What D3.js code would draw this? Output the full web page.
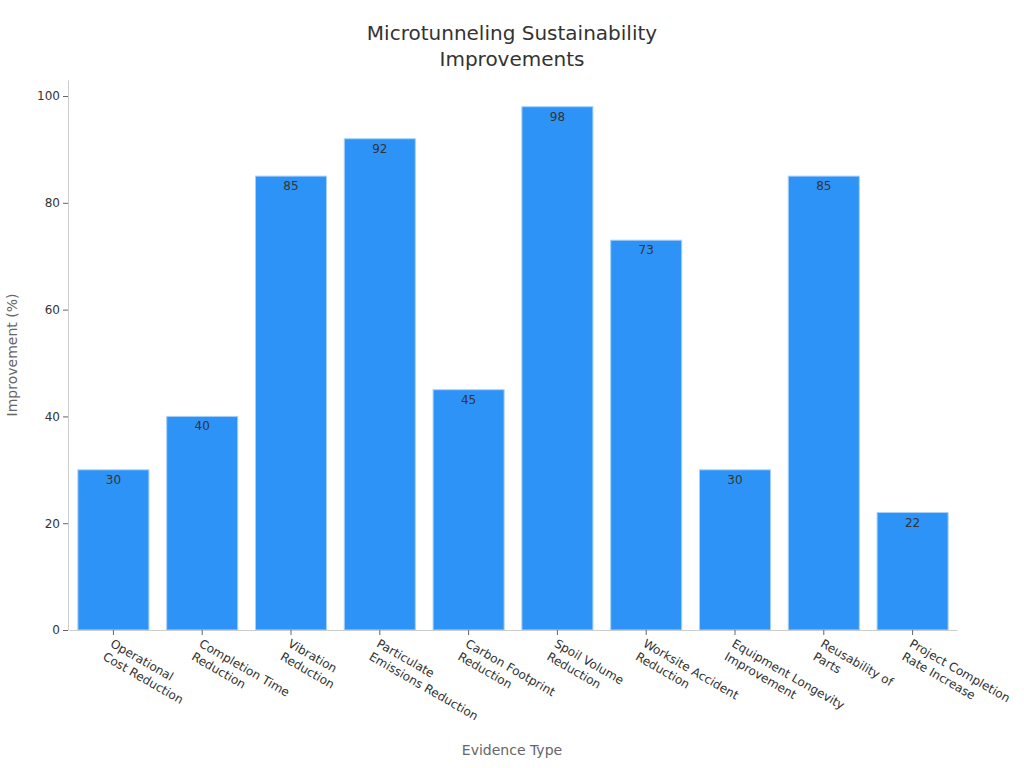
<!DOCTYPE html>
<html><head><meta charset="utf-8">
<script src="https://cdn.jsdelivr.net/npm/d3@7"></script>
<style>body{margin:0;background:#fff;font-family:"DejaVu Sans",sans-serif}</style>
</head><body><svg id="c" width="1024" height="768"></svg>
<script>
const categories = [
  ["Operational","Cost Reduction"],
  ["Completion Time","Reduction"],
  ["Vibration","Reduction"],
  ["Particulate","Emissions Reduction"],
  ["Carbon Footprint","Reduction"],
  ["Spoil Volume","Reduction"],
  ["Worksite Accident","Reduction"],
  ["Equipment Longevity","Improvement"],
  ["Reusability of","Parts"],
  ["Project Completion","Rate Increase"]
];
const values = [30, 40, 85, 92, 45, 98, 73, 30, 85, 22];
const yTicks = [0, 20, 40, 60, 80, 100];
const titleLines = ["Microtunneling Sustainability", "Improvements"];

const svg = d3.select("#c");
const m = {l:68, r:957, t:80, b:630};
const keys = categories.map(d => d.join(" "));
const x = d3.scaleBand().domain(keys).range([m.l + 1, m.r]).paddingInner(0.2).paddingOuter(0.1);
const y = d3.scaleLinear().domain([0, 103]).range([m.b, m.t]);

// title
svg.append("text").attr("x",512).attr("y",40).attr("text-anchor","middle")
  .attr("font-size",20).attr("fill","#333")
  .selectAll("tspan").data(titleLines).join("tspan")
  .attr("x",512).attr("dy",(d,i)=>i?26:0).text(d=>d);

// bars
svg.append("g").selectAll("rect").data(values).join("rect")
  .attr("x",(d,i)=>x(keys[i])).attr("width",x.bandwidth())
  .attr("y",d=>y(d)).attr("height",d=>y(0)-y(d))
  .attr("fill","#2e93f6").attr("stroke","#a8d0f8").attr("stroke-width",1);

svg.append("g").selectAll("text").data(values).join("text")
  .attr("x",(d,i)=>x(keys[i])+x.bandwidth()/2).attr("y",d=>y(d)+14)
  .attr("text-anchor","middle").attr("font-size",12).attr("fill","#333").text(d=>d);

// y axis
const ya = svg.append("g").attr("transform",`translate(${m.l},0)`)
  .call(d3.axisLeft(y).tickValues(yTicks).tickSize(5).tickSizeOuter(0));
ya.select(".domain").attr("stroke","#ccc");
ya.selectAll(".tick line").attr("stroke","#666");
ya.selectAll(".tick text").attr("font-size",12).attr("fill","#333").attr("font-family","DejaVu Sans");

// x axis
const xa = svg.append("g").attr("transform",`translate(0,${m.b})`)
  .call(d3.axisBottom(x).tickSize(5).tickSizeOuter(0).tickFormat(""));
xa.select(".domain").attr("stroke","#ccc");
xa.selectAll(".tick line").attr("stroke","#666");

svg.append("g").selectAll("text").data(categories).join("text")
  .attr("transform",(d,i)=>`translate(${x(keys[i])+x.bandwidth()/2-4},${m.b+16}) rotate(30)`)
  .attr("font-size",12).attr("fill","#333")
  .selectAll("tspan").data(d=>d).join("tspan")
  .attr("x",0).attr("dy",(d,i)=>i?15:0).text(d=>d);

// axis titles
svg.append("text").attr("transform","translate(17,355) rotate(-90)")
  .attr("text-anchor","middle").attr("font-size",14).attr("fill","#666").text("Improvement (%)");
svg.append("text").attr("x",512).attr("y",755).attr("text-anchor","middle")
  .attr("font-size",14).attr("fill","#666").text("Evidence Type");
</script></body></html>
